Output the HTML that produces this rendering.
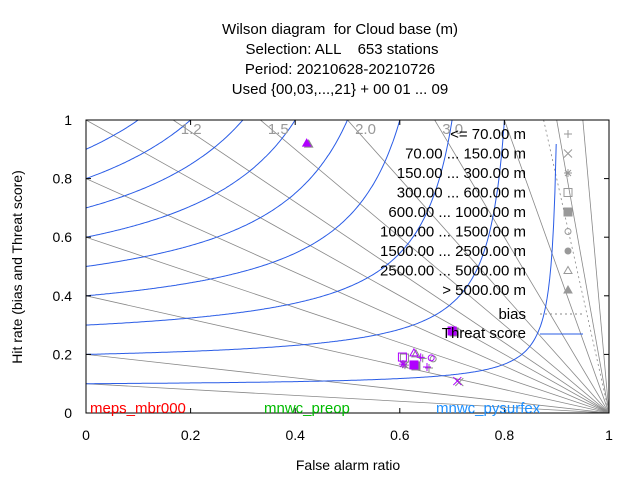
<!DOCTYPE html>
<html><head><meta charset="utf-8"><style>
body{margin:0;background:#fff;}
svg{display:block;font-family:"Liberation Sans",sans-serif;}
text{white-space:pre;}
</style></head><body>
<svg id="c" width="640" height="480">
<g font-size="15" text-anchor="middle" fill="#000">
<text x="340" y="34" xml:space="preserve">Wilson diagram  for Cloud base (m)</text>
<text x="342" y="54" xml:space="preserve">Selection: ALL    653 stations</text>
<text x="340" y="74">Period: 20210628-20210726</text>
<text x="340" y="94">Used {00,03,...,21} + 00 01 ... 09</text>
</g>
<defs><clipPath id="pc"><rect x="86" y="120" width="523" height="293"/></clipPath></defs>
<g id="grid" clip-path="url(#pc)"></g>
<g id="marks"></g>
<rect x="86" y="120" width="523" height="293" fill="none" stroke="#000"/>
<g id="axes" font-size="14"></g>
<text x="348" y="470" font-size="14" text-anchor="middle">False alarm ratio</text>
<text x="0" y="0" font-size="14" text-anchor="middle" transform="translate(22,267) rotate(-90)">Hit rate (bias and Threat score)</text>
<g font-size="15">
<text x="90" y="413" fill="#ff0000">meps_mbr000</text>
<text x="264" y="413" fill="#00bb00">mnwc_preop</text>
<text x="436" y="413" fill="#1e90ff">mnwc_pysurfex</text>
</g>
<g id="legend" font-size="15" text-anchor="end"></g>
</svg>
<script>
const xTicks=[0,0.2,0.4,0.6,0.8,1];
const yTicks=[0,0.2,0.4,0.6,0.8,1];
const biasVals=[0.1,0.2,0.4,0.6,0.8,1.0,1.2,1.5,2.0,3.0,5.0,10.0,20.0];
const biasLabels=[1.2,1.5,2.0,3.0];
const tsVals=[0.1,0.2,0.3,0.4,0.5,0.6,0.7,0.8,0.9];
const legendLabels=["<= 70.00 m","70.00 ... 150.00 m","150.00 ... 300.00 m","300.00 ... 600.00 m","600.00 ... 1000.00 m","1000.00 ... 1500.00 m","1500.00 ... 2500.00 m","2500.00 ... 5000.00 m","> 5000.00 m"];
const legendMarkers=["plus","x","star","sq","fsq","circ","fcirc","tri","ftri"];
const ptMarkers=["ftri","fsq","sq","tri","plus","circ","star","fsq","plus","x"];
const ptFar=[0.422,0.700,0.605,0.627,0.640,0.660,0.606,0.627,0.652,0.710];
const ptPod=[0.921,0.280,0.191,0.205,0.190,0.188,0.167,0.164,0.157,0.109];
const NS="http://www.w3.org/2000/svg";
const X=v=>86+v*523, Y=v=>413-v*293;
function mk(tag,at,parent){const e=document.createElementNS(NS,tag);for(const k in at)e.setAttribute(k,at[k]);parent.appendChild(e);return e;}
const grid=document.getElementById('grid');
biasVals.forEach(b=>{
  let f0=b<=1?0:1-1/b;
  const l=mk('line',{x1:X(f0),y1:Y(b*(1-f0)),x2:X(1),y2:Y(0),stroke:'#888','stroke-width':0.8},grid);
  
  
});
{const b=8,f0=1-1/b;
 const l=mk('line',{x1:X(f0),y1:Y(1),x2:X(1),y2:Y(0),stroke:'#888','stroke-width':0.8,'stroke-dasharray':'2,3'},grid);
 
 }
tsVals.forEach(t=>{
  let d='';
  for(let i=0;i<=400;i++){const f=i/400*0.999;const p=1/(1/t+1-1/(1-f));if(p<0||p>1.05)continue;d+=(d?'L':'M')+X(f).toFixed(1)+','+Y(p).toFixed(1);}
  const pth=mk('path',{d:d,fill:'none',stroke:'#2a5ce6','stroke-width':1},grid);
  
  
});
const ax=document.getElementById('axes');
biasLabels.forEach(b=>{
  const t=mk('text',{x:X(1-1/b)+18,y:134,fill:'#999','font-size':15,'text-anchor':'middle'},ax);t.textContent=b.toFixed(1);
  
  
});
xTicks.forEach(v=>{
  mk('line',{x1:X(v),y1:413,x2:X(v),y2:408,stroke:'#000'},ax);mk('line',{x1:X(v),y1:120,x2:X(v),y2:125,stroke:'#000'},ax);
  const t=mk('text',{x:X(v),y:440,'text-anchor':'middle'},ax);t.textContent=String(v);
  
  
});
yTicks.forEach(v=>{
  mk('line',{x1:86,y1:Y(v),x2:91,y2:Y(v),stroke:'#000'},ax);mk('line',{x1:609,y1:Y(v),x2:604,y2:Y(v),stroke:'#000'},ax);
  const t=mk('text',{x:72,y:Y(v)+5,'text-anchor':'end'},ax);t.textContent=String(v);
  
  
});
function marker(type,x,y,col,parent){
  const g=mk('g',{stroke:col,fill:'none','stroke-width':1},parent);const s=4;
  if(type==='plus'){mk('path',{d:`M${x-s},${y}H${x+s}M${x},${y-s}V${y+s}`},g);}
  else if(type==='x'){mk('path',{d:`M${x-s},${y-s}L${x+s},${y+s}M${x-s},${y+s}L${x+s},${y-s}`},g);}
  else if(type==='star'){mk('path',{d:`M${x-s},${y}H${x+s}M${x},${y-s}V${y+s}M${x-3},${y-3}L${x+3},${y+3}M${x-3},${y+3}L${x+3},${y-3}`},g);}
  else if(type==='sq'||type==='fsq'){mk('rect',{x:x-s,y:y-s,width:2*s,height:2*s,fill:type==='fsq'?col:'none'},g);}
  else if(type==='circ'||type==='fcirc'){mk('circle',{cx:x,cy:y,r:3,fill:type==='fcirc'?col:'none'},g);}
  else {mk('path',{d:`M${x},${y-s}L${x+s},${y+s-1}L${x-s},${y+s-1}Z`,fill:type==='ftri'?col:'none'},g);}
  return g;
}
const marks=document.getElementById('marks');
ptFar.forEach((f,i)=>{
  const g0=marker(ptMarkers[i],X(f)+2,Y(ptPod[i])+1,'#888',marks);
  
  
  const g=marker(ptMarkers[i],X(f),Y(ptPod[i]),'#b000ff',marks);
  
  
});
const lg=document.getElementById('legend');
legendLabels.forEach((s,i)=>{
  const y=139+i*19.5;
  const t=mk('text',{x:526,y:y},lg);t.textContent=s;
  
  
  const g=marker(legendMarkers[i],568,y-5,'#999',lg);
  
  
});
{const t=mk('text',{x:526,y:319},lg);t.textContent='bias';
 
 
 mk('line',{x1:540,y1:314,x2:583,y2:314,stroke:'#888','stroke-dasharray':'2,3'},lg);
 const t2=mk('text',{x:526,y:338},lg);t2.textContent='Threat score';
 
 
 mk('line',{x1:540,y1:334,x2:583,y2:334,stroke:'#2a5ce6'},lg);}
</script>
</body></html>
